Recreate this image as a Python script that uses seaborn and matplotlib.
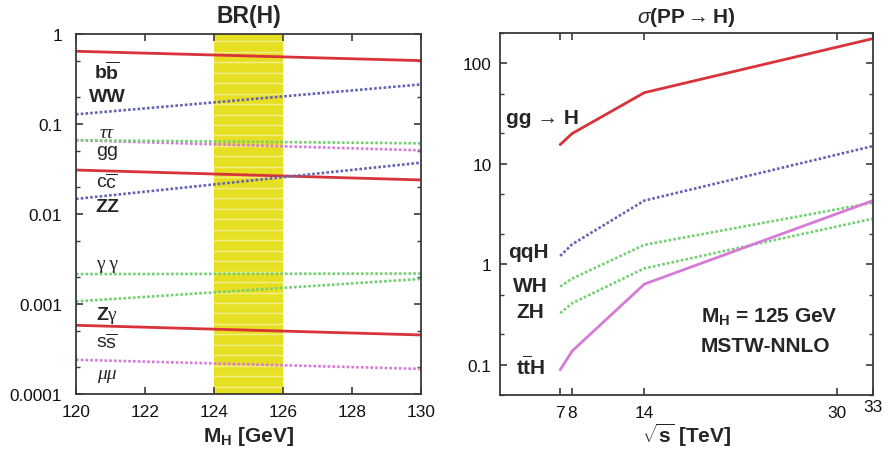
import numpy as np
import pandas as pd
import matplotlib
matplotlib.use("Agg")
import matplotlib.pyplot as plt
import seaborn as sns
from matplotlib.ticker import FixedLocator, FixedFormatter, LogLocator, NullFormatter

# ---------------- data ----------------
# Left: Higgs branching ratios vs M_H
mh = [120, 130]
br_bb = [0.643, 0.506]
br_ww = [0.128, 0.275]
br_tautau = [0.066, 0.061]
br_gg = [0.066, 0.051]
br_cc = [0.0308, 0.0239]
br_zz = [0.0147, 0.0372]
br_gamgam = [0.00215, 0.00218]
br_zgam = [0.00107, 0.0019]
br_ss = [0.00058, 0.000453]
br_mumu = [0.00024, 0.00019]

# Right: production cross sections vs sqrt(s)
sqrts = [7, 8, 14, 33]
xs_ggh = [15.5, 20.0, 51.0, 176.0]
xs_qqh = [1.21, 1.58, 4.3, 15.0]
xs_wh = [0.60, 0.72, 1.56, 4.1]
xs_zh = [0.326, 0.41, 0.91, 2.84]
xs_tth = [0.089, 0.137, 0.635, 4.3]

left_xticks = [120, 122, 124, 126, 128, 130]
left_yticks = [0.0001, 0.001, 0.01, 0.1, 1]
left_ylabels = ["0.0001", "0.001", "0.01", "0.1", "1"]
right_xticks = [7, 8, 14, 30, 33]
right_xlabels = ["7", "8", "14", "30", "33"]
right_yticks = [0.1, 1, 10, 100]
right_ylabels = ["0.1", "1", "10", "100"]

# ---------------- style ----------------
sns.set_theme(style="ticks")
plt.rcParams["font.family"] = ["Liberation Sans", "DejaVu Sans"]
plt.rcParams["mathtext.fontset"] = "custom"
plt.rcParams["mathtext.rm"] = "Liberation Sans"
plt.rcParams["mathtext.bf"] = "Liberation Sans:bold"
plt.rcParams["mathtext.it"] = "Liberation Sans:italic"
plt.rcParams["mathtext.sf"] = "Liberation Sans"

RED = "#d8323a"
BLUE = "#6464b4"
GREEN = "#72d072"
MAG = "#d77ad7"
SPINE = "#3a3a3a"

fig = plt.figure(figsize=(8.88, 4.52), dpi=100)
axL = fig.add_axes([76 / 888, 1 - 395 / 452, 345 / 888, 360 / 452])
axR = fig.add_axes([500 / 888, 1 - 396 / 452, 373 / 888, 362 / 452])

solid = dict(lw=2.0)
dotted = dict(lw=1.9, dashes=(1, 0.8))

def draw(ax, x, y, color, style):
    df = pd.DataFrame({"x": x, "y": y})
    kw = dict(solid) if style == "solid" else dict(dotted)
    sns.lineplot(data=df, x="x", y="y", ax=ax, color=color, legend=False, **kw)

# ---- left panel ----
axL.set_yscale("log")
axL.axvspan(124, 126, color="#e7df22", lw=0, zorder=0)
for yf in np.linspace(0.02, 0.98, 34):
    axL.axhline(10 ** (-4 + 4 * yf), xmin=0.4, xmax=0.6, color="#f3ef8e", lw=1.0, zorder=0.5)

draw(axL, mh, br_bb, RED, "solid")
draw(axL, mh, br_ww, BLUE, "dotted")
draw(axL, mh, br_gg, MAG, "dotted")
draw(axL, mh, br_tautau, GREEN, "dotted")
draw(axL, mh, br_cc, RED, "solid")
draw(axL, mh, br_zz, BLUE, "dotted")
draw(axL, mh, br_gamgam, GREEN, "dotted")
draw(axL, mh, br_zgam, GREEN, "dotted")
draw(axL, mh, br_ss, RED, "solid")
draw(axL, mh, br_mumu, MAG, "dotted")

axL.set_xlim(120, 130)
axL.set_ylim(1e-4, 1)
axL.xaxis.set_major_locator(FixedLocator(left_xticks))
axL.yaxis.set_major_locator(FixedLocator(left_yticks))
axL.yaxis.set_major_formatter(FixedFormatter(left_ylabels))
axL.yaxis.set_minor_locator(LogLocator(base=10, subs=(2, 5)))
axL.yaxis.set_minor_formatter(NullFormatter())
axL.set_xlabel(r"M$_\mathbf{H}$ [GeV]", fontsize=15, fontweight="bold", labelpad=4)
axL.set_ylabel("")
axL.set_title("BR(H)", fontsize=16.5, fontweight="bold", pad=9)

lab_fs = 14
tx = 0.09
axL.text(tx, 1 - (72 - 35) / 360, r"$\mathbf{b}\overline{\mathbf{b}}$", transform=axL.transAxes,
         ha="center", va="center", fontsize=lab_fs)
axL.text(tx, 1 - (98 - 35) / 360, "WW", transform=axL.transAxes, ha="center", va="center",
         fontsize=lab_fs, fontweight="bold")
axL.text(tx, 1 - (134 - 35) / 360, "ττ", transform=axL.transAxes, ha="center", va="center",
         fontsize=lab_fs, family=["Liberation Serif", "DejaVu Serif"], style="italic")
axL.text(tx, 1 - (152 - 35) / 360, "gg", transform=axL.transAxes, ha="center", va="center",
         fontsize=lab_fs)
axL.text(tx, 1 - (183 - 35) / 360, r"c$\overline{\mathrm{c}}$", transform=axL.transAxes,
         ha="center", va="center", fontsize=lab_fs)
axL.text(tx, 1 - (208 - 35) / 360, "ZZ", transform=axL.transAxes, ha="center", va="center",
         fontsize=lab_fs, fontweight="bold")
axL.text(tx, 1 - (265 - 35) / 360, "γ γ", transform=axL.transAxes, ha="center", va="center",
         fontsize=lab_fs, family=["Liberation Serif", "DejaVu Serif"])
axL.text(tx, 1 - (316 - 35) / 360, r"$\mathbf{Z}$γ", transform=axL.transAxes, ha="center",
         va="center", fontsize=lab_fs, family=["Liberation Serif", "DejaVu Serif"])
axL.text(tx, 1 - (343 - 35) / 360, r"s$\overline{\mathrm{s}}$", transform=axL.transAxes,
         ha="center", va="center", fontsize=lab_fs)
axL.text(tx, 1 - (375 - 35) / 360, "μμ", transform=axL.transAxes, ha="center", va="center",
         fontsize=lab_fs, family=["Liberation Serif", "DejaVu Serif"], style="italic")

# ---- right panel ----
axR.set_yscale("log")
draw(axR, sqrts, xs_ggh, RED, "solid")
draw(axR, sqrts, xs_qqh, BLUE, "dotted")
draw(axR, sqrts, xs_wh, GREEN, "dotted")
draw(axR, sqrts, xs_zh, GREEN, "dotted")
draw(axR, sqrts, xs_tth, MAG, "solid")

axR.set_xlim(2, 33)
axR.set_ylim(0.05, 200)
axR.xaxis.set_major_locator(FixedLocator(right_xticks))
axR.xaxis.set_major_formatter(FixedFormatter(right_xlabels))
axR.yaxis.set_major_locator(FixedLocator(right_yticks))
axR.yaxis.set_major_formatter(FixedFormatter(right_ylabels))
axR.yaxis.set_minor_locator(LogLocator(base=10, subs=(2, 5)))
axR.yaxis.set_minor_formatter(NullFormatter())
axR.set_xlabel(r"$\sqrt{\mathbf{s}}$ [TeV]", fontsize=15, fontweight="bold", labelpad=1)
axR.set_ylabel("")
axR.set_title(r"$\sigma$(PP$\rightarrow$H)", fontsize=15, fontweight="bold", pad=8)

rfs = 15
axR.text(0.015, 1 - (118 - 34) / 362, "gg → H", transform=axR.transAxes, ha="left",
         va="center", fontsize=rfs, fontweight="bold")
axR.text(0.022, 1 - (253 - 34) / 362, "qqH", transform=axR.transAxes, ha="left",
         va="center", fontsize=rfs, fontweight="bold")
axR.text(0.034, 1 - (286 - 34) / 362, "WH", transform=axR.transAxes, ha="left",
         va="center", fontsize=rfs, fontweight="bold")
axR.text(0.043, 1 - (313 - 34) / 362, "ZH", transform=axR.transAxes, ha="left",
         va="center", fontsize=rfs, fontweight="bold")
axR.text(0.043, 1 - (367 - 34) / 362, r"$\mathbf{t}\overline{\mathbf{t}}\mathbf{H}$",
         transform=axR.transAxes, ha="left", va="center", fontsize=rfs)
axR.text(0.539, 1 - (317 - 34) / 362, r"M$_\mathbf{H}$ = 125 GeV", transform=axR.transAxes,
         ha="left", va="center", fontsize=rfs, fontweight="bold")
axR.text(0.539, 1 - (347 - 34) / 362, "MSTW-NNLO", transform=axR.transAxes, ha="left",
         va="center", fontsize=rfs, fontweight="bold")

for ax in (axL, axR):
    for s in ax.spines.values():
        s.set_visible(True)
        s.set_color(SPINE)
        s.set_linewidth(1.3)
    ax.tick_params(which="both", direction="in", top=True, right=True, colors=SPINE,
                   labelcolor="#111111", labelsize=12.4)
    ax.tick_params(which="major", length=5, width=1.2)
    ax.tick_params(which="minor", length=3, width=1.0)
    ax.tick_params(axis="x", which="major", pad=7)
    ax.set_facecolor("white")

axL.tick_params(axis="y", which="major", pad=10)
axR.tick_params(axis="y", which="major", pad=6)

# raise the "33" label slightly
axR.xaxis.get_major_ticks()[-1].set_pad(3)

fig.savefig("out.png", dpi=100, facecolor="white")
